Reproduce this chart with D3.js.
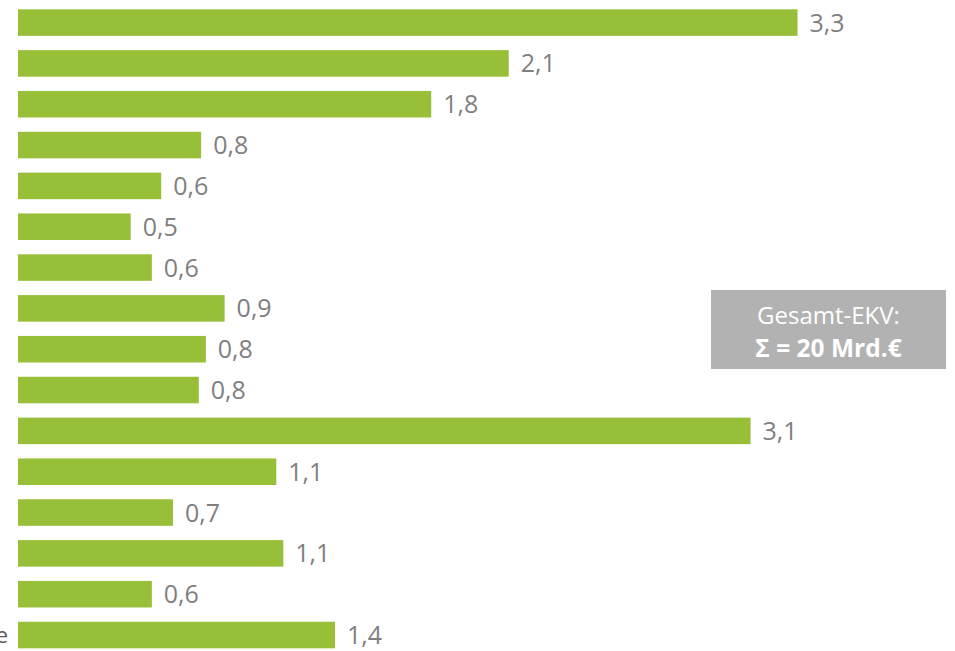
<!DOCTYPE html>
<html>
<head>
<meta charset="utf-8">
<script src="https://cdn.jsdelivr.net/npm/d3@7"></script>
<style>
  body { margin: 0; background: #fff; }
  svg { display: block; font-family: "Open Sans", sans-serif; }
</style>
</head>
<body>
<div id="chart"></div>
<script>
// bar lengths (Mrd. €), top to bottom
const values = [3.32, 2.09, 1.76, 0.78, 0.61, 0.48, 0.57, 0.88, 0.80, 0.77, 3.12, 1.10, 0.66, 1.13, 0.57, 1.35];
// value labels as printed next to the bars
const labels = ["3,3", "2,1", "1,8", "0,8", "0,6", "0,5", "0,6", "0,9", "0,8", "0,8", "3,1", "1,1", "0,7", "1,1", "0,6", "1,4"];
// category names are cut off at the left edge; only the end of the last one shows
const categories = ["", "", "", "", "", "", "", "", "", "", "", "", "", "", "", "e"];
const boxLines = ["Gesamt-EKV:", "\u03A3 = 20 Mrd.\u20AC"];

const width = 955;
const height = 651;

const svg = d3.select("#chart")
  .append("svg")
  .attr("width", width)
  .attr("height", height);

const x = d3.scaleLinear()
  .domain([0, 3.5])
  .range([18, 18 + 3.5 * 234.8]);

const y = d3.scaleBand()
  .domain(d3.range(values.length))
  .range([9.3, 648.3])
  .paddingInner(0.35)
  .paddingOuter(0);

svg.selectAll("rect.bar")
  .data(values)
  .enter()
  .append("rect")
  .attr("class", "bar")
  .attr("x", x(0))
  .attr("y", (d, i) => y(i))
  .attr("width", d => x(d) - x(0))
  .attr("height", y.bandwidth())
  .style("fill", "#98bf38");

svg.selectAll("text.value")
  .data(values)
  .enter()
  .append("text")
  .attr("class", "value")
  .attr("x", d => x(d) + 12)
  .attr("y", (d, i) => y(i) + y.bandwidth() / 2)
  .attr("dy", "0.36em")
  .style("font-size", "25px")
  .style("fill", "#7f7f7f")
  .text((d, i) => labels[i]);

svg.selectAll("text.cat")
  .data(categories)
  .enter()
  .append("text")
  .attr("class", "cat")
  .attr("x", x(0) - 10)
  .attr("y", (d, i) => y(i) + y.bandwidth() / 2)
  .attr("dy", "0.36em")
  .style("text-anchor", "end")
  .style("font-size", "22px")
  .style("fill", "#595959")
  .text(d => d);

// total box
const box = svg.append("g").attr("transform", "translate(711, 290)");
box.append("rect")
  .attr("width", 235)
  .attr("height", 79)
  .style("fill", "#b2b2b2");
box.append("text")
  .attr("x", 117.5)
  .attr("y", 34)
  .style("text-anchor", "middle")
  .style("font-size", "24px")
  .style("fill", "#fff")
  .text(boxLines[0]);
box.append("text")
  .attr("x", 117.5)
  .attr("y", 66.5)
  .style("text-anchor", "middle")
  .style("font-size", "24.5px")
  .style("font-weight", "bold")
  .style("fill", "#fff")
  .text(boxLines[1]);
</script>
</body>
</html>
